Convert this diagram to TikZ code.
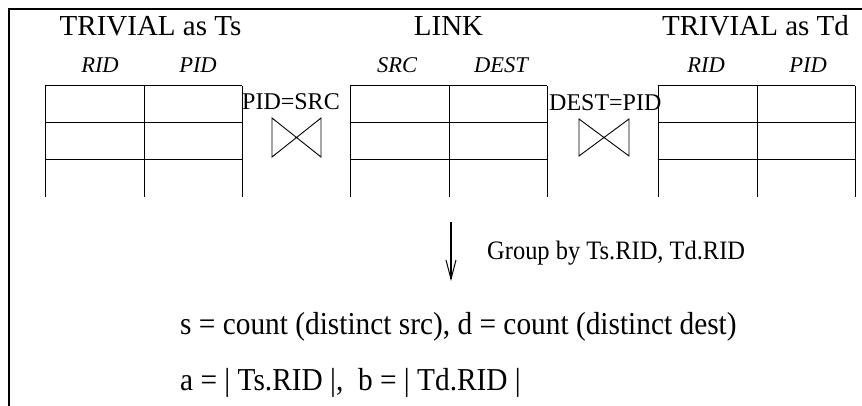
\documentclass[tikz,border=0pt]{standalone}
\usepackage{fontspec}
\setmainfont{Liberation Serif}
\newfontfamily\condserif{Liberation Serif}[FakeStretch=0.92]
\usetikzlibrary{arrows.meta}
\begin{document}
\begin{tikzpicture}[x=1pt,y=-1pt,
  frame/.style={line width=2pt},
  gridline/.style={line width=1pt},
  title/.style={anchor=base,inner sep=0pt,font=\fontsize{29}{32}\selectfont},
  colhead/.style={anchor=base,inner sep=0pt,font=\fontsize{22.5}{24}\selectfont\itshape},
  joinlabel/.style={anchor=base west,inner sep=0pt,font=\fontsize{24}{26}\selectfont},
  bigtext/.style={anchor=base west,inner sep=0pt,font=\condserif\fontsize{31.9}{34}\selectfont},
  grouptext/.style={anchor=base west,inner sep=0pt,font=\condserif\fontsize{26.6}{28}\selectfont},
  bowtie/.style={line width=0.9pt,line join=miter},
  flow/.style={line width=1.3pt,-{Straight Barb[length=19pt,width=10pt,line width=1pt]}}]
\useasboundingbox (0,0) rectangle (862,406);
% frame
\draw[frame] (9,406) -- (9,9) -- (862,9);
% tables
\foreach \l in {45,350,658}{
  \foreach \y in {86,123,160}{\draw[gridline] (\l,\y) -- ++(197,0);}
  \foreach \dx in {0,99,197}{\draw[gridline] (\l+\dx,86) -- ++(0,111);}
}
% titles
\node[title] (tstitle) at (150.5,36) {TRIVIAL as Ts};
\node[title] (linktitle) at (448.5,36) {LINK};
\node[title] (tdtitle) at (755.5,36) {TRIVIAL as Td};
% column headers
\node[colhead] (h1) at (100,73) {RID};
\node[colhead] (h2) at (198,73) {PID};
\node[colhead] (h3) at (397,73) {SRC};
\node[colhead] (h4) at (501,73) {DEST};
\node[colhead] (h5) at (706,73) {RID};
\node[colhead] (h6) at (808,73) {PID};
% join conditions
\node[joinlabel] (j1) at (242,110) {PID=SRC};
\node[joinlabel] (j2) at (549,111) {DEST=PID};
\draw[bowtie] (272,118) -- (321,157) -- (321,118) -- (272,157) -- cycle;
\draw[bowtie] (579,119) -- (629,156) -- (629,119) -- (579,156) -- cycle;
% group by arrow
\coordinate (arrtop) at (451,222);
\coordinate (arrtip) at (451,281);
\draw[flow] (arrtop) -- (arrtip);
\node[grouptext] (grp) at (487,259) {Group by Ts.RID, Td.RID};
% results
\node[bigtext] (sline) at (180,334) {s = count (distinct src), d = count (distinct dest)};
\node[bigtext] (aline) at (180,390) {a = | Ts.RID |,\ \ b = | Td.RID |};
\end{tikzpicture}
\end{document}
